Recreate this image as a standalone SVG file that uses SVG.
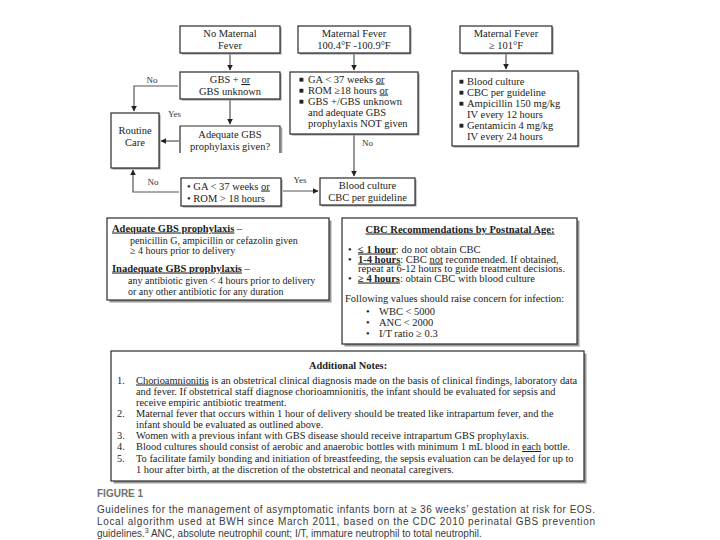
<svg xmlns="http://www.w3.org/2000/svg" width="720" height="540" viewBox="0 0 720 540">
<defs>
<marker id="ah" viewBox="0 0 10 10" refX="9" refY="5" markerWidth="5" markerHeight="5" orient="auto"><path d="M0,0 L10,5 L0,10 z" fill="#222"/></marker>
<style>
.bx{fill:#fff;stroke:#2a2a2a;stroke-width:1.2}
.sh{fill:#9a9a9a}
.t{font-family:"Liberation Serif","Times New Roman",serif;font-size:10.5px;fill:#222}
.s{font-family:"Liberation Serif","Times New Roman",serif;font-size:10px;fill:#222}
.k{font-family:"Liberation Serif","Times New Roman",serif;font-size:10.5px;fill:#222}
.n{font-family:"Liberation Serif","Times New Roman",serif;font-size:10.4px;fill:#222}
.c{text-anchor:middle}
.b{font-weight:bold}
.u{text-decoration:underline}
.ln{fill:none;stroke:#555;stroke-width:1.2}
.lbl{font-family:"Liberation Serif","Times New Roman",serif;font-size:9px;fill:#333}
.cap{font-family:"Liberation Sans",Arial,sans-serif;font-size:10px;fill:#3a3a3a}
.blt{font-family:"DejaVu Sans",sans-serif;font-size:5px;fill:#222}
</style>
</defs>
<rect width="720" height="540" fill="#fff"/>

<g id="connectors">
<path class="ln" d="M230,53 V70" marker-end="url(#ah)"/>
<path class="ln" d="M354,53 V70" marker-end="url(#ah)"/>
<path class="ln" d="M506,53 V69" marker-end="url(#ah)"/>
<path class="ln" d="M230,99 V124" marker-end="url(#ah)"/>
<path class="ln" d="M178,86 H134 V111" marker-end="url(#ah)"/>
<path class="ln" d="M179,141 H161" marker-end="url(#ah)"/>
<path class="ln" d="M179,192 H133 V170" marker-end="url(#ah)"/>
<path class="ln" d="M283,191 H318" marker-end="url(#ah)"/>
<path class="ln" d="M354,135 V176" marker-end="url(#ah)"/>
<text class="lbl c" x="152" y="83">No</text>
<text class="lbl" x="168" y="117">Yes</text>
<text class="lbl c" x="153" y="185">No</text>
<text class="lbl c" x="300" y="183">Yes</text>
<text class="lbl" x="362" y="146">No</text>
</g>

<g id="no-maternal-fever">
<rect class="sh" x="181.5" y="27.5" width="100" height="27"/>
<rect class="bx" x="180" y="26" width="100" height="27"/>
<text class="t c" x="230" y="37">No Maternal</text>
<text class="t c" x="230" y="48.5">Fever</text>
</g>

<g id="maternal-fever-mid">
<rect class="sh" x="299.5" y="27.5" width="112" height="27"/>
<rect class="bx" x="298" y="26" width="112" height="27"/>
<text class="t c" x="354" y="37">Maternal Fever</text>
<text class="t c" x="354" y="48.5">100.4°F -100.9°F</text>
</g>

<g id="maternal-fever-high">
<rect class="sh" x="461.5" y="27.5" width="92" height="27"/>
<rect class="bx" x="460" y="26" width="92" height="27"/>
<text class="t c" x="506" y="37">Maternal Fever</text>
<text class="t c" x="506" y="48.5">≥ 101°F</text>
</g>

<g id="gbs-status">
<rect class="sh" x="181.5" y="73.5" width="100" height="27"/>
<rect class="bx" x="180" y="72" width="100" height="27"/>
<text class="t c" x="230" y="83">GBS +  <tspan class="u">or</tspan></text>
<text class="t c" x="230" y="95">GBS unknown</text>
</g>

<g id="risk-factors">
<rect class="sh" x="291.5" y="73.5" width="128" height="62"/>
<rect class="bx" x="290" y="72" width="128" height="62"/>
<text class="blt" x="299" y="80.5">■</text>
<text class="blt" x="299" y="91.5">■</text>
<text class="blt" x="299" y="102.5">■</text>
<text class="t" x="308" y="82.5">GA &lt; 37 weeks <tspan class="u">or</tspan></text>
<text class="t" x="308" y="93.5">ROM ≥18 hours <tspan class="u">or</tspan></text>
<text class="t" x="308" y="104.5">GBS +/GBS unknown</text>
<text class="t" x="308" y="115.5">and adequate GBS</text>
<text class="t" x="308" y="126.5">prophylaxis NOT given</text>
</g>

<g id="treatment">
<rect class="sh" x="453.5" y="72.5" width="126" height="75"/>
<rect class="bx" x="452" y="71" width="126" height="75"/>
<text class="blt" x="459" y="82.5">■</text>
<text class="blt" x="459" y="93.5">■</text>
<text class="blt" x="459" y="104.5">■</text>
<text class="blt" x="459" y="126.5">■</text>
<text class="t" x="467" y="84.5">Blood culture</text>
<text class="t" x="467" y="95.5">CBC per guideline</text>
<text class="t" x="467" y="106.5">Ampicillin 150 mg/kg</text>
<text class="t" x="467" y="117.5">IV every 12 hours</text>
<text class="t" x="467" y="128.5">Gentamicin 4 mg/kg</text>
<text class="t" x="467" y="139.5">IV every 24 hours</text>
</g>

<g id="routine-care">
<rect class="sh" x="112.5" y="114.5" width="48" height="55"/>
<rect class="bx" x="111" y="113" width="48" height="55"/>
<text class="t c" x="135" y="134">Routine</text>
<text class="t c" x="135" y="146">Care</text>
</g>

<g id="adequate-prophylaxis-question">
<rect x="180" y="126" width="100" height="27" fill="#fff"/>
<path d="M180,153 V126 H280 V153" fill="none" stroke="#2a2a2a" stroke-width="1.2"/>
<path d="M281.5,127.5 V153" fill="none" stroke="#9a9a9a" stroke-width="1.5"/>
<text class="t c" x="230" y="137.5">Adequate GBS</text>
<text class="t c" x="230" y="149.5">prophylaxis given?</text>
</g>

<g id="ga-rom">
<rect class="sh" x="182.5" y="179.5" width="100" height="28"/>
<rect class="bx" x="181" y="178" width="100" height="28"/>
<text class="t" x="187" y="189.5">• GA &lt; 37 weeks <tspan class="u">or</tspan></text>
<text class="t" x="187" y="201.5">• ROM &gt; 18 hours</text>
</g>

<g id="blood-culture">
<rect class="sh" x="321.5" y="179.5" width="95" height="27"/>
<rect class="bx" x="320" y="178" width="95" height="27"/>
<text class="t c" x="367.5" y="189">Blood culture</text>
<text class="t c" x="367.5" y="201">CBC per guideline</text>
</g>

<g id="prophylaxis-definitions">
<rect class="sh" x="109.5" y="220.5" width="222" height="82"/>
<rect class="bx" x="107" y="218" width="222" height="82"/>
<text class="k" x="112" y="231.5"><tspan class="b u">Adequate GBS prophylaxis</tspan> –</text>
<text class="s" x="130" y="243.5">penicillin G, ampicillin or cefazolin given</text>
<text class="s" x="130" y="253.5">≥ 4 hours prior to delivery</text>
<text class="k" x="112" y="271.5"><tspan class="b u">Inadequate GBS prophylaxis</tspan> –</text>
<text class="s" x="128" y="283.5">any antibiotic given &lt; 4 hours prior to delivery</text>
<text class="s" x="128" y="294.5">or any other antibiotic for any duration</text>
</g>

<g id="cbc-recommendations">
<rect class="sh" x="344.5" y="220.5" width="235" height="126"/>
<rect class="bx" x="342" y="218" width="235" height="126"/>
<text class="k c b u" x="460" y="232.5">CBC Recommendations by Postnatal Age:</text>
<text class="k" x="348" y="252.5">•</text>
<text class="k" x="358" y="252.5"><tspan class="b u">≤ 1 hour</tspan>: do not obtain CBC</text>
<text class="k" x="348" y="262.5">•</text>
<text class="k" x="358" y="262.5"><tspan class="b u">1-4 hours</tspan>: CBC <tspan class="u">not</tspan> recommended. If obtained,</text>
<text class="k" x="358" y="272">repeat at 6-12 hours to guide treatment decisions.</text>
<text class="k" x="348" y="281.5">•</text>
<text class="k" x="358" y="281.5"><tspan class="b u">≥ 4 hours</tspan>: obtain CBC with blood culture</text>
<text class="k" x="345" y="301.5">Following values should raise concern for infection:</text>
<text class="k" x="366" y="314.5">•</text>
<text class="k" x="379" y="314.5">WBC &lt; 5000</text>
<text class="k" x="366" y="325.5">•</text>
<text class="k" x="379" y="325.5">ANC &lt; 2000</text>
<text class="k" x="366" y="337">•</text>
<text class="k" x="379" y="337">I/T ratio ≥ 0.3</text>
</g>

<g id="additional-notes">
<rect class="sh" x="113.5" y="353.5" width="473" height="130"/>
<rect class="bx" x="111" y="351" width="473" height="130"/>
<text class="n c b" x="348" y="369">Additional Notes:</text>
<text class="n" x="117" y="383.5">1.</text>
<text class="n" x="136" y="383.5"><tspan class="u">Chorioamnionitis</tspan> is an obstetrical clinical diagnosis made on the basis of clinical findings, laboratory data</text>
<text class="n" x="136" y="394.5">and fever.  If obstetrical staff diagnose chorioamnionitis, the infant should be evaluated for sepsis and</text>
<text class="n" x="136" y="405.5">receive empiric antibiotic treatment.</text>
<text class="n" x="117" y="416.5">2.</text>
<text class="n" x="136" y="416.5">Maternal fever that occurs within 1 hour of delivery should be treated like intrapartum fever, and the</text>
<text class="n" x="136" y="427.5">infant should be evaluated as outlined above.</text>
<text class="n" x="117" y="439">3.</text>
<text class="n" x="136" y="439">Women with a previous infant with GBS disease should receive intrapartum GBS prophylaxis.</text>
<text class="n" x="117" y="450">4.</text>
<text class="n" x="136" y="450">Blood cultures should consist of aerobic and anaerobic bottles with minimum 1 mL blood in <tspan class="u">each</tspan> bottle.</text>
<text class="n" x="117" y="461.5">5.</text>
<text class="n" x="136" y="461.5">To facilitate family bonding and initiation of breastfeeding, the sepsis evaluation can be delayed for up to</text>
<text class="n" x="136" y="472.5">1 hour after birth, at the discretion of the obstetrical and neonatal caregivers.</text>
</g>

<g id="caption">
<text class="cap b" x="97" y="497" style="fill:#707070">FIGURE 1</text>
<text class="cap" x="97" y="513" textLength="498" lengthAdjust="spacing">Guidelines for the management of asymptomatic infants born at ≥ 36 weeks’ gestation at risk for EOS.</text>
<text class="cap" x="97" y="525" textLength="498" lengthAdjust="spacing">Local algorithm used at BWH since March 2011, based on the CDC 2010 perinatal GBS prevention</text>
<text class="cap" x="97" y="537">guidelines.<tspan font-size="7" dy="-4">3</tspan><tspan dy="4"> ANC, absolute neutrophil count; I/T, immature neutrophil to total neutrophil.</tspan></text>
</g>
</svg>
